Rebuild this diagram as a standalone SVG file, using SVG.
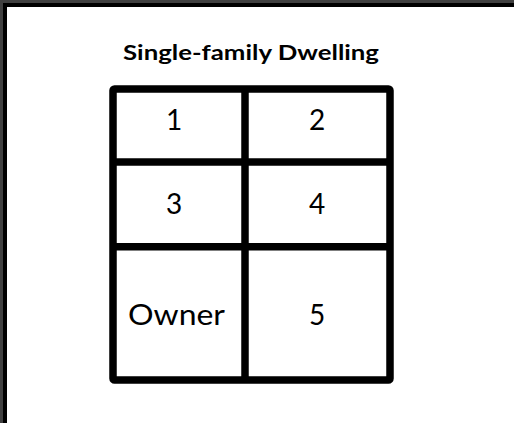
<svg xmlns="http://www.w3.org/2000/svg" width="514" height="423" viewBox="0 0 514 423">
<style>
.cell{font-family:Lato,"Open Sans","Liberation Sans",sans-serif;font-size:28px;fill:#000;text-anchor:middle}
.grid{fill:none;stroke:#000;stroke-width:7.5;stroke-linejoin:round}
</style>
<rect x="0" y="0" width="514" height="423" fill="#fff"/>
<rect x="0" y="0" width="514" height="7" fill="#000"/>
<rect x="0" y="0" width="7" height="423" fill="#000"/>
<rect x="0" y="0" width="514" height="3" fill="#404040"/>
<rect x="0" y="0" width="3" height="423" fill="#404040"/>
<text x="251" y="60" font-family="Lato,'Open Sans','Liberation Sans',sans-serif" font-weight="bold" font-size="21.5" text-anchor="middle" textLength="256" lengthAdjust="spacingAndGlyphs" fill="#000">Single-family Dwelling</text>
<g id="connectors">
<rect class="grid" x="113" y="89" width="277" height="291" rx="1.5"/>
<line class="grid" x1="245" y1="89" x2="245" y2="380"/>
<line class="grid" x1="113" y1="162" x2="390" y2="162"/>
<line class="grid" x1="113" y1="246.7" x2="390" y2="246.7"/>
</g>
<g id="cell1"><text class="cell" x="174" y="130">1</text></g>
<g id="cell2"><text class="cell" x="317" y="130">2</text></g>
<g id="cell3"><text class="cell" x="174" y="214">3</text></g>
<g id="cell4"><text class="cell" x="317" y="214">4</text></g>
<g id="owner"><text class="cell" x="176.5" y="325" textLength="97" lengthAdjust="spacingAndGlyphs">Owner</text></g>
<g id="cell5"><text class="cell" x="317" y="325">5</text></g>
</svg>
